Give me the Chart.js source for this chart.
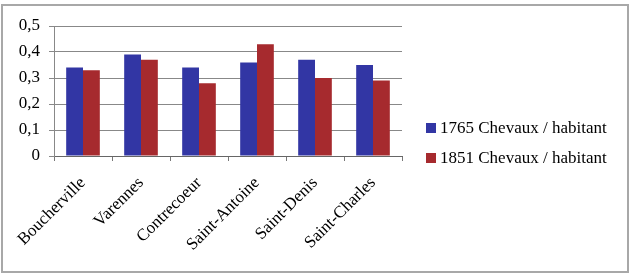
<!DOCTYPE html>
<html>
<head>
<meta charset="utf-8">
<script src="https://cdn.jsdelivr.net/npm/chart.js@4/dist/chart.umd.min.js"></script>
<style>
  html, body { margin: 0; padding: 0; background: #fff; }
  #wrap { position: relative; width: 633px; height: 275px; }
  #frame { position: absolute; left: 1px; top: 4px; width: 628px; height: 269px; box-sizing: border-box; border: 2px solid #a8a8a8; pointer-events: none; }
  canvas { position: absolute; left: 0; top: 0; }
</style>
</head>
<body>
<div id="wrap">
  <canvas id="c" width="633" height="275"></canvas>
  <div id="frame"></div>
</div>
<script>
const categories = ['Boucherville', 'Varennes', 'Contrecoeur', 'Saint-Antoine', 'Saint-Denis', 'Saint-Charles'];
const series1765 = [0.34, 0.39, 0.34, 0.36, 0.37, 0.35];
const series1851 = [0.33, 0.37, 0.28, 0.43, 0.30, 0.29];
const seriesNames = ['1765 Chevaux / habitant', '1851 Chevaux / habitant'];
const yTickLabels = ['0', '0,1', '0,2', '0,3', '0,4', '0,5'];

const FONT = { family: '"Liberation Serif", "Times New Roman", serif', size: 17 };

// Legend drawn to the right of the chart area, from the datasets.
const sideLegend = {
  id: 'sideLegend',
  afterDraw(chart) {
    const ctx = chart.ctx;
    const x0 = chart.chartArea.right + 24;
    const y0 = 128;
    const step = 30;
    ctx.save();
    ctx.font = FONT.size + 'px ' + FONT.family;
    ctx.textBaseline = 'middle';
    ctx.textAlign = 'left';
    chart.data.datasets.forEach((ds, i) => {
      const y = y0 + i * step;
      ctx.fillStyle = ds.backgroundColor;
      ctx.fillRect(x0, y - 5, 10, 10);
      ctx.fillStyle = '#000';
      ctx.fillText(ds.label, x0 + 14, y + 1);
    });
    ctx.restore();
  }
};

new Chart(document.getElementById('c'), {
  type: 'bar',
  data: {
    labels: categories,
    datasets: [
      { label: seriesNames[0], data: series1765, backgroundColor: '#3236A4', borderWidth: 0 },
      { label: seriesNames[1], data: series1851, backgroundColor: '#A62A2E', borderWidth: 0 }
    ]
  },
  plugins: [sideLegend],
  options: {
    responsive: false,
    animation: false,
    devicePixelRatio: 1,
    layout: { padding: { left: 0, top: 26, right: 231, bottom: 15 } },
    datasets: { bar: { categoryPercentage: 0.58, barPercentage: 1 } },
    plugins: {
      tooltip: { enabled: false },
      legend: { display: false }
    },
    scales: {
      x: {
        offset: true,
        grid: { display: true, drawOnChartArea: false, drawTicks: true, tickLength: 5, color: '#777', offset: true },
        border: { display: true, color: '#666', width: 1 },
        ticks: { font: FONT, color: '#000', minRotation: 45, maxRotation: 45, autoSkip: false, padding: 12, labelOffset: 0 },
        afterFit: (s) => { s.height = 104; }
      },
      y: {
        min: 0, max: 0.5,
        ticks: {
          stepSize: 0.1, font: FONT, color: '#000', padding: 9,
          callback: (v) => yTickLabels[Math.round(v * 10)]
        },
        grid: { color: '#888', drawTicks: true, tickLength: 5, lineWidth: 1 },
        border: { display: true, color: '#888', width: 1 },
        afterFit: (s) => { s.width = 54; }
      }
    }
  }
});
</script>
</body>
</html>
